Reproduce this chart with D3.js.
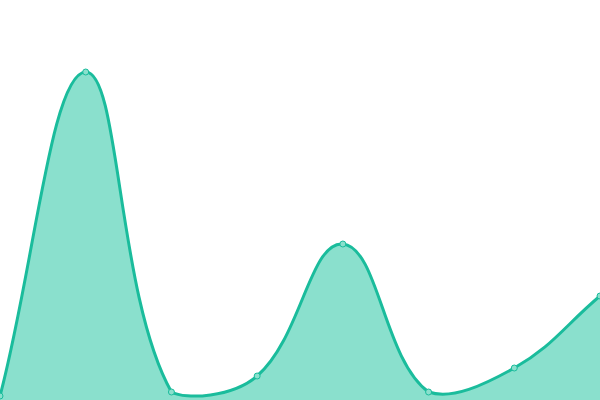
<!DOCTYPE html>
<html><head><meta charset="utf-8">
<script src="https://cdn.jsdelivr.net/npm/d3@7"></script>
<style>html,body{margin:0;padding:0;background:#fff;overflow:hidden}</style>
</head><body>
<svg id="c" width="600" height="400"></svg>
<script>
const categories = [0, 1, 2, 3, 4, 5, 6, 7];
const values = [1, 82, 2, 6, 39, 2, 8, 26];
const yDomain = [0, 100];
const tension = 0.4;

const W = 600, H = 400;
const svg = d3.select("#c");
const x = d3.scaleLinear().domain([0, categories.length - 1]).range([0, W]);
const y = d3.scaleLinear().domain(yDomain).range([H, 0]);
const pts = categories.map((c, i) => ({x: x(c), y: y(values[i])}));

// Spline control points (tension-based), capped to the chart area
const clampX = v => Math.max(0, Math.min(W, v));
const clampY = v => Math.max(0, Math.min(H, v));
const ctrl = pts.map((p, i) => {
  const pr = pts[i - 1] || p, nx = pts[i + 1] || p;
  const d01 = Math.hypot(p.x - pr.x, p.y - pr.y);
  const d12 = Math.hypot(nx.x - p.x, nx.y - p.y);
  let s01 = d01 / (d01 + d12), s12 = d12 / (d01 + d12);
  if (!isFinite(s01)) s01 = 0; if (!isFinite(s12)) s12 = 0;
  const fa = tension * s01, fb = tension * s12;
  return {
    px: clampX(p.x - fa * (nx.x - pr.x)), py: clampY(p.y - fa * (nx.y - pr.y)),
    nx: clampX(p.x + fb * (nx.x - pr.x)), ny: clampY(p.y + fb * (nx.y - pr.y))
  };
});
function buildLine(path) {
  path.moveTo(pts[0].x, pts[0].y);
  for (let i = 1; i < pts.length; i++) {
    path.bezierCurveTo(ctrl[i-1].nx, ctrl[i-1].ny, ctrl[i].px, ctrl[i].py, pts[i].x, pts[i].y);
  }
  return path;
}
const lp = buildLine(d3.path());
const ap = buildLine(d3.path());
ap.lineTo(pts[pts.length-1].x, y(0));
ap.lineTo(pts[0].x, y(0));
ap.closePath();

svg.append("path").attr("d", ap.toString()).attr("fill", "#8ae0cd");
svg.append("path").attr("d", lp.toString())
  .attr("fill", "none").attr("stroke", "#1abc9c").attr("stroke-width", 3);
svg.selectAll("circle").data(pts).join("circle")
  .attr("cx", d => d.x).attr("cy", d => d.y).attr("r", 3)
  .attr("fill", "#8ae0cd").attr("stroke", "#1abc9c").attr("stroke-width", 1);
</script>
</body></html>
